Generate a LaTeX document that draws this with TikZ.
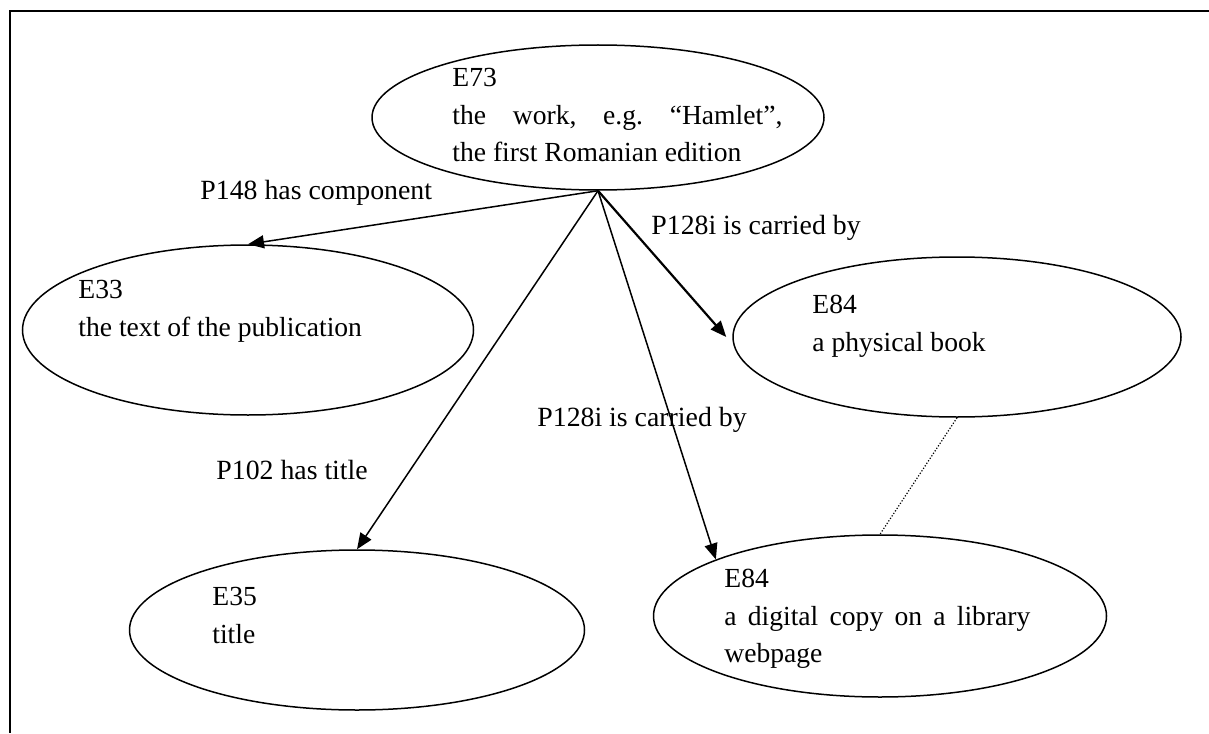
\documentclass[tikz,border=0pt]{standalone}
\usepackage{fontspec}
\setmainfont{Liberation Serif}
\usepackage{tikz}
\usetikzlibrary{arrows.meta, shapes.geometric, positioning}
\frenchspacing

\begin{document}
\begin{tikzpicture}[x=0.5pt, y=-0.5pt,
		entity/.style={draw, ellipse, line width=0.75pt, inner sep=0pt},
		etext/.style={anchor=north west, inner sep=0pt, align=left, font=\fontsize{13.8}{18.75}\selectfont},
		rel/.style={-{Triangle[length=8pt,width=6.5pt]}, line width=0.75pt},
		rlabel/.style={anchor=west, inner sep=0pt, font=\fontsize{13.9}{18.75}\selectfont}]
	\useasboundingbox (0,0) rectangle (1209,733);
	% frame
	\draw[line width=1pt] (1209,11) -- (10,11) -- (10,733);

	% entities
	\node[entity, minimum width=226pt, minimum height=72.5pt] (e73) at (598,117.5) {};
	\node[entity, minimum width=225.5pt, minimum height=85pt] (e33) at (248,330) {};
	\node[entity, minimum width=224pt, minimum height=80pt] (e84a) at (957,337) {};
	\node[entity, minimum width=227.5pt, minimum height=80pt] (e35) at (357,630) {};
	\node[entity, minimum width=226.5pt, minimum height=81pt] (e84b) at (880,616) {};

	\node[etext] (t73) at (452,68) {E73\\ \makebox[165pt][s]{the work, e.g. “Hamlet”,}\\ the first Romanian edition};
	\node[etext] (t33) at (78,280) {E33\\ the text of the publication};
	\node[etext] (t84a) at (812,295) {E84\\ a physical book};
	\node[etext] (t35) at (212,587) {E35\\ title};
	\node[etext] (t84b) at (724,569) {E84\\ \makebox[153pt][s]{a digital copy on a library}\\ webpage};

	% relations
	\draw[rel] (e73.south) -- (e33.north);
	\draw[rel] (e73.south) -- (e35.north);
	\draw[rel] (e73.south) -- (e84b.161);
	\draw[rel, line width=1.1pt] (e73.south) -- ([xshift=-3pt]e84a.west);
	\draw[line width=0.6pt, dash pattern=on 0.6pt off 0.9pt] (e84a.south) -- (e84b.north);

	\node[rlabel] (l148) at (200,193) {P148 has component};
	\node[rlabel] (l128a) at (651,228) {P128i is carried by};
	\node[rlabel] (l128b) at (537,420) {P128i is carried by};
	\node[rlabel] (l102) at (216,470) {P102 has title};
\end{tikzpicture}
\end{document}
